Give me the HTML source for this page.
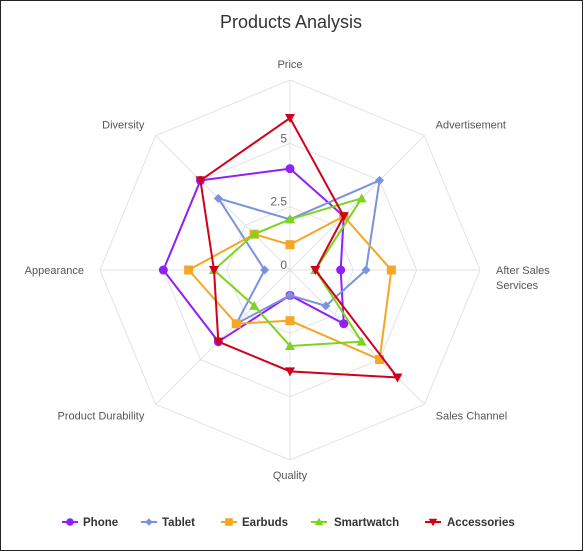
<!DOCTYPE html>
<html><head><meta charset="utf-8"><style>
body{margin:0;background:#fff;}
#wrap{width:581px;height:549px;border:1px solid #222;position:relative;font-family:"Liberation Sans",sans-serif;}
svg{position:absolute;left:0;top:0;}
</style></head><body>
<div id="wrap">
<svg id="chart" width="581" height="549"></svg>
</div>
<script>
const categories=["Price","Advertisement","After Sales Services","Sales Channel","Quality","Product Durability","Appearance","Diversity"];
const seriesNames=["Phone","Tablet","Earbuds","Smartwatch","Accessories"];
const phone=[4,3,2,3,1,4,5,5];
const tablet=[2,5,3,2,1,3,1,4];
const earbuds=[1,3,4,5,2,3,4,2];
const smartwatch=[2,4,1,4,3,2,3,2];
const accessories=[6,3,1,6,4,4,3,5];
const tickLabels=["0","2.5","5"];
const tickValues=[0,2.5,5];
const maxValue=7.5;

const colors=["#8f1ffb","#7b93dc","#f5a623","#7ed321","#d0021b"];
const markers=["circle","diamond","square","tri-up","tri-down"];
const allSeries=[phone,tablet,earbuds,smartwatch,accessories];
const NS="http://www.w3.org/2000/svg";
const svg=document.getElementById('chart');
const cx=289,cy=269,R=190;
function mk(t,a,p){const e=document.createElementNS(NS,t);for(const k in a)e.setAttribute(k,a[k]);(p||svg).appendChild(e);return e;}
function ang(i){return -Math.PI/2+i*2*Math.PI/categories.length;}
function rScale(v){return v/maxValue*R;}
function pt(i,v){const a=ang(i),r=rScale(v);return [cx+r*Math.cos(a),cy+r*Math.sin(a)];}

const title=mk('text',{x:290,y:27,'text-anchor':'middle','font-size':18,fill:'#333'});
title.textContent='Products Analysis';



const grid=mk('g',{});


[2.5,5,7.5].forEach(v=>{
  const pts=categories.map((c,i)=>pt(i,v).join(',')).join(' ');
  const p=mk('polygon',{points:pts,fill:'none',stroke:'#e3e3e3','stroke-width':1},grid);
  
  
});
categories.forEach((c,i)=>{
  const [x,y]=pt(i,maxValue);
  const l=mk('line',{x1:cx,y1:cy,x2:x,y2:y,stroke:'#e3e3e3','stroke-width':1},grid);
  
  
});
tickValues.forEach((v,k)=>{
  const t=mk('text',{x:cx-3,y:cy-rScale(v)-1,'text-anchor':'end','font-size':12,fill:'#666'});
  t.textContent=tickLabels[k];
  
  
});
categories.forEach((c,i)=>{
  const a=ang(i);const r=R+16;
  let x=cx+r*Math.cos(a),y=cy+r*Math.sin(a)+4;
  let anchor='middle';
  const cs=Math.cos(a);
  if(cs>0.1)anchor='start';else if(cs<-0.1)anchor='end';
  if(i===0)y=cy-R-12;
  if(i===4)y=cy+R+19;
  const t=mk('text',{x:x,y:y,'text-anchor':anchor,'font-size':11,fill:'#555'});
  
  
  if(c==="After Sales Services"){
    const a1=mk('tspan',{x:x,dy:0},t);a1.textContent='After Sales';
    const a2=mk('tspan',{x:x,dy:15},t);a2.textContent='Services';
  } else t.textContent=c;
});
function marker(g,type,x,y,col,s){
  s=s||4.5;
  let e;
  if(type==='circle')e=mk('circle',{cx:x,cy:y,r:s,fill:col},g);
  else if(type==='diamond')e=mk('polygon',{points:`${x},${y-s} ${x+s},${y} ${x},${y+s} ${x-s},${y}`,fill:col},g);
  else if(type==='square')e=mk('rect',{x:x-s,y:y-s,width:2*s,height:2*s,fill:col},g);
  else if(type==='tri-up')e=mk('polygon',{points:`${x},${y-s-0.5} ${x+s+0.5},${y+s-0.5} ${x-s-0.5},${y+s-0.5}`,fill:col},g);
  else e=mk('polygon',{points:`${x},${y+s+0.5} ${x+s+0.5},${y-s+0.5} ${x-s-0.5},${y-s+0.5}`,fill:col},g);
  return e;
}
allSeries.forEach((s,k)=>{
  const g=mk('g',{});
  
  
  const pts=s.map((v,i)=>pt(i,v));
  const poly=mk('polygon',{points:pts.map(p=>p.join(',')).join(' '),fill:'none',stroke:colors[k],'stroke-width':2},g);
  
  
  pts.forEach(p=>{
    const m=marker(g,markers[k],p[0],p[1],colors[k]);
    
    
  });
});
const legX=[69,148,228,318,432];
const legTX=[82,161,241,333,446];
seriesNames.forEach((n,k)=>{
  const g=mk('g',{});
  
  
  const x=legX[k],y=521;
  mk('line',{x1:x-8,y1:y,x2:x+8,y2:y,stroke:colors[k],'stroke-width':2},g);
  marker(g,markers[k],x,y,colors[k],3.8);
  const t=mk('text',{x:legTX[k],y:y+4,'font-size':11.5,'font-weight':'bold',fill:'#333'},g);
  t.textContent=n;
});
</script>
</body></html>
